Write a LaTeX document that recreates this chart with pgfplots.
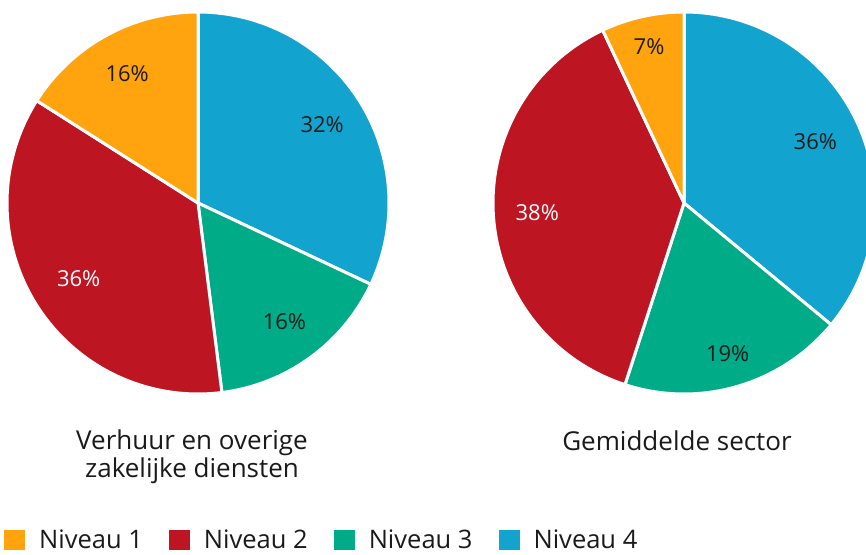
\documentclass[border=0pt]{standalone}
\usepackage{pgfplots}
\usepackage{pgfplotstable}
\pgfplotsset{compat=1.18}
\usepackage{fontspec}
\setmainfont{Open Sans}

\definecolor{niv1}{HTML}{FFA40F}
\definecolor{niv2}{HTML}{BE1523}
\definecolor{niv3}{HTML}{00AB88}
\definecolor{niv4}{HTML}{13A3CF}
\definecolor{ink}{HTML}{1A1A1A}

\newcommand\labelfont{\fontsize{22}{26}\selectfont}
\newcommand\titlefont{\fontsize{26}{28}\selectfont}
\newcommand\legendfont{\fontsize{25.5}{28}\selectfont}

% percentages per niveau (lr = label distance from centre, share of radius)
\pgfplotstableread{
niveau pct lr
1 16 0.77
2 36 0.74
3 16 0.77
4 32 0.77
}\verhuur
\pgfplotstableread{
niveau pct lr
1 7 0.84
2 38 0.77
3 19 0.82
4 36 0.76
}\gemiddeld

\newcommand\R{191}
% one slice: table, row, centre x, centre y
\newcommand\slice[4]{%
  \pgfplotstablegetelem{#2}{niveau}\of#1\let\niv\pgfplotsretval
  \pgfplotstablegetelem{#2}{pct}\of#1\let\val\pgfplotsretval
  \pgfplotstablegetelem{#2}{lr}\of#1\let\lr\pgfplotsretval
  \pgfmathsetmacro\angA{90-3.6*\cum}%
  \pgfmathsetmacro\cumnew{\cum+\val}\global\let\cum\cumnew
  \pgfmathsetmacro\angB{90-3.6*\cum}%
  \pgfmathsetmacro\angM{(\angA+\angB)/2}%
  \pgfmathsetmacro\lx{#3+\lr*\R*cos(\angM)}%
  \pgfmathsetmacro\ly{#4+\lr*\R*sin(\angM)}%
  \ifnum\niv=2 \def\tc{white}\else\def\tc{ink}\fi
  \edef\doit{\noexpand\addplot[fill=niv\niv,draw=white,line width=3pt,line join=round,
      domain=\angB:\angA,samples=90,forget plot]
      ({#3+\R*cos(x)},{#4+\R*sin(x)}) -- (axis cs:#3,#4) -- cycle;
    \noexpand\node[text=\tc,font=\noexpand\labelfont] at (axis cs:\lx,\ly) {\val\noexpand\%};}%
  \doit}
% clockwise from the top: niveau 4, 3, 2, 1
\newcommand\pie[3]{%
  \gdef\cum{0}%
  \slice{#1}{3}{#2}{#3}\slice{#1}{2}{#2}{#3}\slice{#1}{1}{#2}{#3}\slice{#1}{0}{#2}{#3}}

\begin{document}
\begin{tikzpicture}
\begin{axis}[width=866pt,height=554pt,scale only axis,
  xmin=0,xmax=866,ymin=0,ymax=554,hide axis,
  legend columns=-1,
  legend image code/.code={\fill[#1,draw=none] (0pt,-10pt) rectangle (21pt,10pt);},
  legend style={draw=none,fill=none,at={(0.0046,0.025)},anchor=west,inner sep=0pt,
    font=\legendfont,text=ink,
    /tikz/every odd column/.style={column sep=12pt},
    /tikz/every even column/.style={column sep=24pt}}]
\pie{\verhuur}{198}{351}
\pie{\gemiddeld}{684}{351}
\node[align=center,font=\titlefont,text=ink] at (axis cs:192,97) {Verhuur en overige\\zakelijke diensten};
\node[font=\titlefont,text=ink] at (axis cs:677,113) {Gemiddelde sector};
\addlegendimage{fill=niv1}\addlegendentry{Niveau 1}
\addlegendimage{fill=niv2}\addlegendentry{Niveau 2}
\addlegendimage{fill=niv3}\addlegendentry{Niveau 3}
\addlegendimage{fill=niv4}\addlegendentry{Niveau 4}
\end{axis}
\pgfresetboundingbox
\path (current axis.south west) rectangle (current axis.north east);
\end{tikzpicture}
\end{document}
